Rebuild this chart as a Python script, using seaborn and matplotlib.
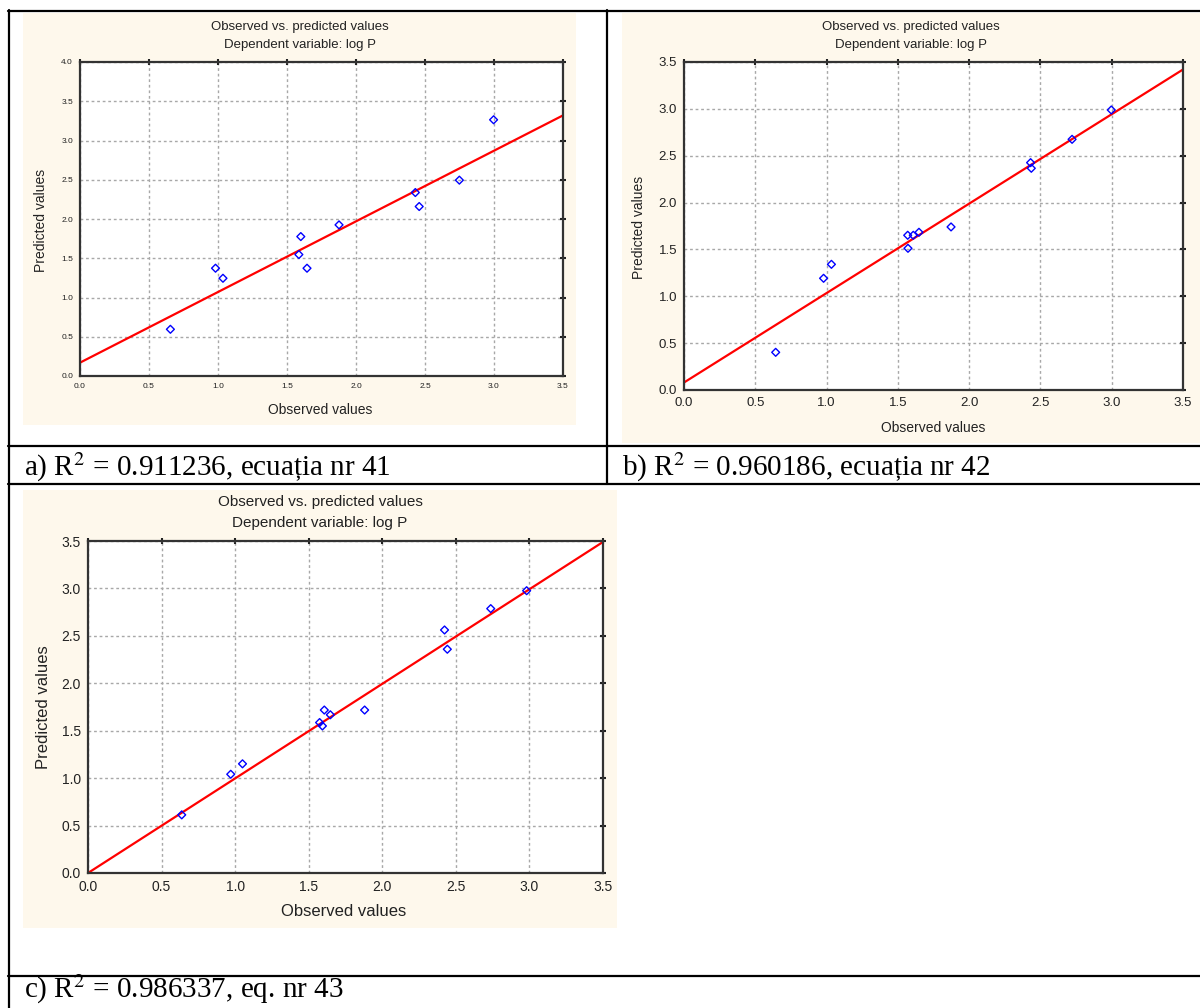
import matplotlib
matplotlib.use("Agg")
import matplotlib.pyplot as plt
import seaborn as sns
from matplotlib.lines import Line2D
from matplotlib.patches import Rectangle
from matplotlib.ticker import MultipleLocator, FormatStrFormatter

# observed / predicted log P
obs_a = [0.655, 0.982, 1.036, 1.600, 1.586, 1.645, 1.877, 2.430, 2.458, 2.749, 2.997]
pred_a = [0.595, 1.373, 1.245, 1.776, 1.547, 1.373, 1.925, 2.337, 2.159, 2.495, 3.264]

obs_b = [0.643, 0.979, 1.034, 1.569, 1.608, 1.648, 1.571, 1.873, 2.431, 2.436, 2.722, 2.997]
pred_b = [0.402, 1.192, 1.341, 1.651, 1.651, 1.683, 1.512, 1.740, 2.426, 2.366, 2.675, 2.988]

obs_c = [0.637, 0.970, 1.050, 1.574, 1.593, 1.606, 1.647, 1.880, 2.423, 2.442, 2.737, 2.981]
pred_c = [0.613, 1.041, 1.151, 1.586, 1.550, 1.718, 1.668, 1.718, 2.562, 2.359, 2.787, 2.976]

# fitted line, value at observed = 0 and observed = 3.5
fit_x = [0.0, 3.5]
fit_a = [0.17, 3.32]
fit_b = [0.08, 3.42]
fit_c = [0.00, 3.49]

captions = ["a) R$^2$ = 0.911236, ecuația nr 41",
            "b) R$^2$ = 0.960186, ecuația nr 42",
            "c) R$^2$ = 0.986337, eq. nr 43"]
title_1 = "Observed vs. predicted values"
title_2 = "Dependent variable: log P"

sns.set_style("white")
plt.rcParams["font.family"] = ["Liberation Sans", "DejaVu Sans"]
plt.rcParams["mathtext.fontset"] = "stix"

W, H = 1200, 1008
BEIGE = "#fef8ec"
fig = plt.figure(figsize=(12, 10.08), dpi=100)


def box(l, t, r, b):
    return [l / W, 1 - b / H, (r - l) / W, (b - t) / H]


def hline(y, x0=8, x1=1200):
    fig.add_artist(Line2D([x0 / W, x1 / W], [1 - y / H, 1 - y / H],
                          transform=fig.transFigure, color="black", lw=1.6, zorder=5))


def vline(x, y0=10, y1=1008):
    fig.add_artist(Line2D([x / W, x / W], [1 - y0 / H, 1 - y1 / H],
                          transform=fig.transFigure, color="black", lw=1.6, zorder=5))


panels = [
    dict(obs=obs_a, pred=pred_a, fit=fit_a, ymax=4.0, ax=(80, 62, 563, 376),
         bg=(23, 13, 576, 425), tick=6, tfs=9.5, lfs=10,
         t1=(300, 27), t2=(300, 45), xl=(320, 410), yl=(41, 220)),
    dict(obs=obs_b, pred=pred_b, fit=fit_b, ymax=3.5, ax=(684, 62, 1183, 390),
         bg=(622, 13, 1200, 443), tick=9.5, tfs=9.5, lfs=10,
         t1=(911, 27), t2=(911, 45), xl=(933, 428), yl=(639, 227)),
    dict(obs=obs_c, pred=pred_c, fit=fit_c, ymax=3.5, ax=(88, 541, 603, 873),
         bg=(23, 490, 617, 928), tick=10, tfs=11, lfs=12,
         t1=(320, 502), t2=(320, 523), xl=(344, 912), yl=(43, 707)),
]

for p in panels:
    l, t, r, b = p["bg"]
    fig.add_artist(Rectangle((l / W, 1 - b / H), (r - l) / W, (b - t) / H,
                             transform=fig.transFigure, facecolor=BEIGE,
                             edgecolor="none", zorder=-1))
    ax = fig.add_axes(box(*p["ax"]))
    ax.set_facecolor("white")
    sns.lineplot(x=fit_x, y=p["fit"], ax=ax, color="red", linewidth=1.6, zorder=2)
    sns.scatterplot(x=p["obs"], y=p["pred"], ax=ax, marker="D", s=16, zorder=3)
    pts = ax.collections[-1]
    pts.set_facecolor("none")
    pts.set_edgecolor("blue")
    pts.set_linewidth(1.0)

    ax.set_xlim(0, 3.5)
    ax.set_ylim(0, p["ymax"])
    ax.xaxis.set_major_locator(MultipleLocator(0.5))
    ax.yaxis.set_major_locator(MultipleLocator(0.5))
    ax.xaxis.set_major_formatter(FormatStrFormatter("%.1f"))
    ax.yaxis.set_major_formatter(FormatStrFormatter("%.1f"))
    ax.grid(True, color="#a8a8a8", linestyle=(0, (2, 2)), linewidth=1.0)
    ax.tick_params(direction="inout", length=4, width=1.5, color="#222222",
                   top=True, right=True, labelsize=p["tick"], labelcolor="#222222",
                   pad=3)
    for s in ax.spines.values():
        s.set_visible(True)
        s.set_color("#333333")
        s.set_linewidth(1.6)
    ax.set_xlabel("")
    ax.set_ylabel("")

    fig.text(p["t1"][0] / W, 1 - p["t1"][1] / H, title_1, ha="center", va="center",
             fontsize=p["tfs"], color="#222222")
    fig.text(p["t2"][0] / W, 1 - p["t2"][1] / H, title_2, ha="center", va="center",
             fontsize=p["tfs"], color="#222222")
    fig.text(p["xl"][0] / W, 1 - p["xl"][1] / H, "Observed values", ha="center",
             va="center", fontsize=p["lfs"], color="#222222")
    fig.text(p["yl"][0] / W, 1 - p["yl"][1] / H, "Predicted values", ha="center",
             va="center", rotation=90, fontsize=p["lfs"], color="#222222")

# table grid: the lower row is one merged cell
for y in (11, 446, 484, 976):
    hline(y)
vline(9)
vline(607, 10, 484)

cap_pos = [(24, 476), (622, 476), (24, 998)]
for (x, y), txt in zip(cap_pos, captions):
    fig.text(x / W, 1 - y / H, txt, ha="left", va="baseline", fontsize=21,
             family=["Liberation Serif", "DejaVu Serif"], color="black")

fig.savefig("out.png", dpi=100, facecolor="white")
